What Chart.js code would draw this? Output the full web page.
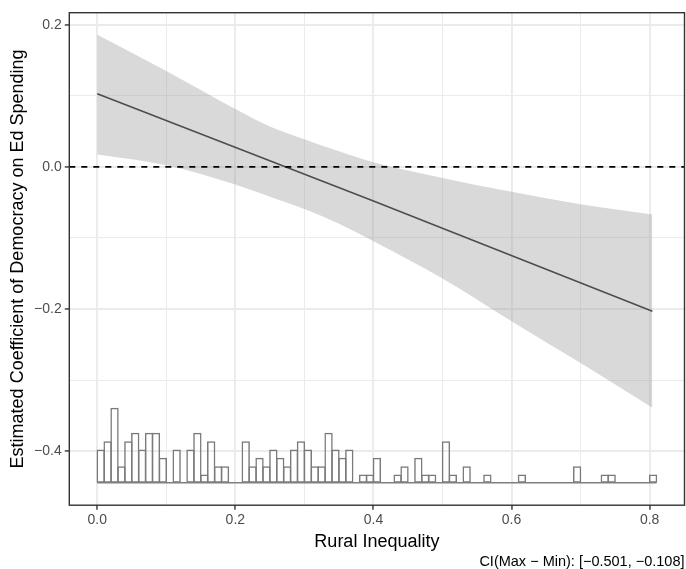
<!DOCTYPE html>
<html>
<head>
<meta charset="utf-8">
<script src="https://cdn.jsdelivr.net/npm/chart.js@4.4.1/dist/chart.umd.min.js"></script>
<style>
  html, body { margin: 0; padding: 0; background: #ffffff; overflow: hidden; }
  #wrap { width: 686px; height: 569px; position: relative; }
</style>
</head>
<body>
<div id="wrap"><canvas id="c" width="686" height="569"></canvas></div>
<script>
// ---------------- data ----------------
// histogram of Rural Inequality: counts per bin of width 0.01 starting at 0
const histBinStart = 0;
const histBinWidth = 0.01;
const histCounts = [
  4, 5, 9, 2, 5, 6, 4, 6, 6, 3,
  0, 4, 0, 4, 6, 1, 5, 2, 2, 0,
  0, 5, 2, 3, 2, 4, 3, 2, 4, 5,
  4, 2, 2, 6, 4, 3, 4, 0, 1, 1,
  3, 0, 0, 1, 2, 0, 3, 1, 1, 0,
  5, 1, 0, 2, 0, 0, 1, 0, 0, 0,
  0, 1, 0, 0, 0, 0, 0, 0, 0, 2,
  0, 0, 0, 1, 1, 0, 0, 0, 0, 0,
  1
];
// histogram is drawn at the bottom of the coefficient axis
const histBaseValue = -0.4445;   // coefficient value of the histogram baseline
const histCountUnit = 0.01172;   // coefficient units per count

// confidence band of the marginal effect
const ciX     = [0, 0.1, 0.2, 0.25, 0.3, 0.35, 0.4, 0.5, 0.6, 0.7, 0.804];
const ciUpper = [0.186, 0.135, 0.0816, 0.057, 0.039, 0.022, 0.0066, -0.0155, -0.035, -0.0525, -0.067];
const ciLower = [0.0173, 0.0023, -0.0248, -0.042, -0.0591, -0.080, -0.1045, -0.157, -0.217, -0.276, -0.339];

// estimated marginal effect line
const effectX = [0, 0.4, 0.804];
const effectY = [0.103, -0.048, -0.203];

// reference line
const refLineY = 0;

// axes
const xRange = [-0.0405, 0.8505];
const yRange = [-0.476, 0.217];
const xTicks = [0, 0.1, 0.2, 0.3, 0.4, 0.5, 0.6, 0.7, 0.8];
const xMajorTicks = [0, 0.2, 0.4, 0.6, 0.8];
const yTicks = [-0.4, -0.3, -0.2, -0.1, 0, 0.1, 0.2];
const yMajorTicks = [-0.4, -0.2, 0, 0.2];

const xTitle = 'Rural Inequality';
const yTitle = 'Estimated Coefficient of Democracy on Ed Spending';
const captionText = 'CI(Max \u2212 Min): [\u22120.501, \u22120.108]';

// ---------------- chart ----------------
const FONT = "'Liberation Sans', Arial, Helvetica, sans-serif";
const isIn = (arr, v) => arr.some(m => Math.abs(m - v) < 1e-9);
const fmt = v => (v < 0 ? '\u2212' : '') + Math.abs(v).toFixed(1);

const histData = histCounts.map((c, i) => ({
  x: histBinStart + (i + 0.5) * histBinWidth,
  y: [histBaseValue, histBaseValue + c * histCountUnit]
}));
const histEnd = histBinStart + histCounts.length * histBinWidth;

const panelBorder = {
  id: 'panelBorder',
  afterDraw(chart) {
    const { ctx, chartArea: a } = chart;
    ctx.save();
    ctx.strokeStyle = '#333333';
    ctx.lineWidth = 1.4;
    ctx.strokeRect(a.left, a.top, a.right - a.left, a.bottom - a.top);
    ctx.restore();
  }
};

const gridCommon = (majors) => ({
  color: '#ebebeb',
  lineWidth: ctx => (ctx.tick && isIn(majors, ctx.tick.value)) ? 1.9 : 1.0,
  drawTicks: true,
  tickLength: 4.5,
  tickWidth: 1.4,
  tickColor: ctx => (ctx.tick && isIn(majors, ctx.tick.value)) ? '#333333' : 'rgba(0,0,0,0)'
});

new Chart(document.getElementById('c'), {
  type: 'line',
  data: {
    datasets: [
      {
        label: 'zero',
        type: 'line',
        data: [{ x: xRange[0], y: refLineY }, { x: xRange[1], y: refLineY }],
        borderColor: '#000000',
        borderWidth: 1.7,
        borderDash: [6, 6],
        pointRadius: 0,
        fill: false,
        order: 0
      },
      {
        label: 'effect',
        type: 'line',
        data: effectX.map((x, i) => ({ x, y: effectY[i] })),
        borderColor: '#4d4d4d',
        borderWidth: 1.6,
        pointRadius: 0,
        fill: false,
        order: 1
      },
      {
        label: 'ciUpper',
        type: 'line',
        data: ciX.map((x, i) => ({ x, y: ciUpper[i] })),
        borderColor: 'rgba(0,0,0,0)',
        borderWidth: 0,
        pointRadius: 0,
        cubicInterpolationMode: 'monotone',
        fill: '+1',
        backgroundColor: 'rgba(153,153,153,0.37)',
        order: 2
      },
      {
        label: 'ciLower',
        type: 'line',
        data: ciX.map((x, i) => ({ x, y: ciLower[i] })),
        borderColor: 'rgba(0,0,0,0)',
        borderWidth: 0,
        pointRadius: 0,
        cubicInterpolationMode: 'monotone',
        fill: false,
        order: 3
      },
      {
        label: 'histBase',
        type: 'line',
        data: [{ x: histBinStart, y: histBaseValue }, { x: histEnd, y: histBaseValue }],
        borderColor: '#7f7f7f',
        borderWidth: 1.5,
        pointRadius: 0,
        fill: false,
        order: 4
      },
      {
        label: 'hist',
        type: 'bar',
        data: histData,
        backgroundColor: 'rgba(255,255,255,0)',
        borderColor: '#7a7a7a',
        borderWidth: 1.5,
        borderSkipped: false,
        barPercentage: 1.21,
        categoryPercentage: 1,
        order: 5
      }
    ]
  },
  options: {
    responsive: false,
    animation: false,
    events: [],
    layout: { padding: { left: 0, right: 1.5, top: 12.7, bottom: 0 } },
    plugins: {
      legend: { display: false },
      tooltip: { enabled: false },
      title: { display: false },
      subtitle: {
        display: true,
        text: captionText,
        position: 'bottom',
        align: 'end',
        color: '#000000',
        font: { family: FONT, size: 14.5, lineHeight: 1, weight: 'normal' },
        padding: { top: 0, bottom: 0 }
      }
    },
    scales: {
      x: {
        type: 'linear',
        min: xRange[0],
        max: xRange[1],
        offset: false,
        afterBuildTicks: s => { s.ticks = xTicks.map(v => ({ value: v })); },
        afterFit: s => { s.height = 49.3; },
        ticks: {
          autoSkip: false,
          maxRotation: 0,
          padding: 2,
          color: '#4d4d4d',
          font: { family: FONT, size: 14 },
          callback: v => isIn(xMajorTicks, v) ? fmt(v) : ''
        },
        grid: Object.assign({ offset: false }, gridCommon(xMajorTicks)),
        border: { display: false },
        title: {
          display: true,
          text: xTitle,
          color: '#000000',
          font: { family: FONT, size: 18 },
          padding: { top: 0, bottom: 1.2 }
        }
      },
      y: {
        type: 'linear',
        min: yRange[0],
        max: yRange[1],
        afterBuildTicks: s => { s.ticks = yTicks.map(v => ({ value: v })); },
        afterFit: s => { s.width = 69.3; },
        ticks: {
          autoSkip: false,
          padding: 3.1,
          color: '#4d4d4d',
          font: { family: FONT, size: 14 },
          callback: v => isIn(yMajorTicks, v) ? fmt(v) : ''
        },
        grid: gridCommon(yMajorTicks),
        border: { display: false },
        title: {
          display: true,
          text: yTitle,
          color: '#000000',
          font: { family: FONT, size: 18 },
          padding: { top: 7.2, bottom: 0 }
        }
      }
    }
  },
  plugins: [panelBorder]
});
</script>
</body>
</html>
